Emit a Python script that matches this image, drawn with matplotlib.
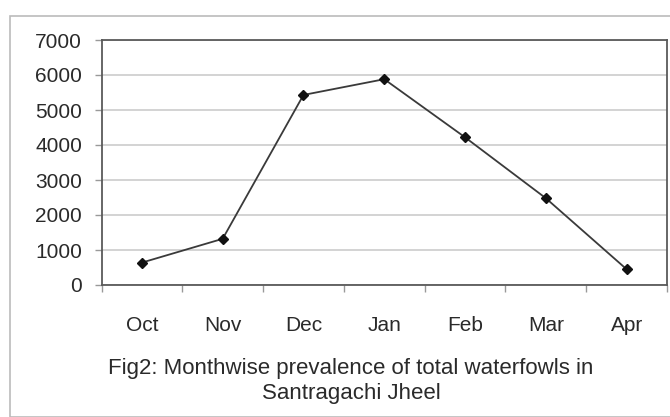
import matplotlib
matplotlib.use("Agg")
import matplotlib.pyplot as plt
from matplotlib.patches import Rectangle

# data
months = ["Oct", "Nov", "Dec", "Jan", "Feb", "Mar", "Apr"]
birds = [640, 1320, 5430, 5880, 4220, 2480, 450]
yticks = [0, 1000, 2000, 3000, 4000, 5000, 6000, 7000]
caption = "Fig2: Monthwise prevalence of total waterfowls in\nSantragachi Jheel"

plt.rcParams['font.family'] = ['Liberation Sans', 'DejaVu Sans']

W, H = 670, 417
fig = plt.figure(figsize=(W / 100, H / 100), dpi=100)

# outer frame of the figure
fig.patches.append(Rectangle((10 / W, 0), 1.0, 1 - 16 / H, transform=fig.transFigure,
                             fill=False, edgecolor="#bbbbbb", linewidth=1.2))

left, right, top, bottom = 101.5, 667, 40, 285
ax = fig.add_axes([left / W, 1 - bottom / H, (right - left) / W, (bottom - top) / H])

x = range(len(months))
ax.plot(x, birds, color="#3a3a3a", linewidth=1.3, marker="D", markersize=5.5,
        markerfacecolor="#111111", markeredgecolor="#111111")

ax.set_xlim(-0.5, len(months) - 0.5)
ax.set_ylim(0, 7000)
ax.set_yticks(yticks)
ax.set_yticklabels([str(v) for v in yticks], fontsize=15, color="#2a2a2a")
ax.set_xticks(list(x))
ax.set_xticklabels(months, fontsize=15, color="#2a2a2a")
ax.tick_params(axis="x", length=0, pad=22)
ax.set_xticks([i - 0.5 for i in range(len(months) + 1)], minor=True)
ax.tick_params(axis="x", which="minor", length=5, color="#999999", width=1)
ax.tick_params(axis="y", length=5, color="#999999", width=1, pad=9)

ax.yaxis.grid(True, color="#cccccc", linewidth=1.2)
ax.set_axisbelow(True)
for s in ax.spines.values():
    s.set_color("#5a5a5a")
    s.set_linewidth(1.3)

fig.text(351 / W, 1 - 381 / H, caption, ha="center", va="center",
         fontsize=16, color="#2a2a2a", linespacing=1.27)

fig.savefig("out.png", dpi=100)
